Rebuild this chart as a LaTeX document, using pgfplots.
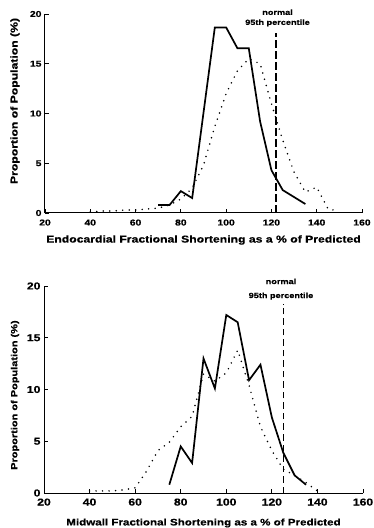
\documentclass[border=0pt]{standalone}
\usepackage{fontspec}
\usepackage{pgfplots}
\pgfplotsset{compat=1.18}
\newfontfamily\lab[FakeStretch=1.22, BoldFeatures={FakeBold=0.6}]{Liberation Sans}
\pgfplotsset{
  myax/.style={
    scale only axis, clip=false,
    xmin=20, xmax=160, ymin=0, ymax=20,
    axis x line=bottom, axis y line=left,
    axis line style={-, line width=1pt},
    tick align=inside, major tick length=4pt,
    tick style={line width=0.9pt, black},
    xtick={20,40,...,160}, ytick={0,5,...,20},
    /pgf/number format/assume math mode=true,
  },
  solidl/.style={black, line width=1.7pt, line join=miter},
  dotl/.style={black, line width=1.7pt, line cap=round, dash pattern=on 0pt off 6.5pt},
}
\begin{document}
\begin{tikzpicture}
\path[use as bounding box] (0,0) rectangle (374pt,528pt);
% ---------- top ----------
\begin{axis}[myax,
  at={(45pt,315pt)}, anchor=south west,
  width=317pt, height=199pt,
  ticklabel style={font=\lab\bfseries\fontsize{8.5}{10}\selectfont},
  xticklabel style={yshift=-3pt},
  xlabel={Endocardial Fractional Shortening as a \% of Predicted},
  ylabel={Proportion of Population (\%)},
  label style={font=\lab\bfseries\fontsize{10}{12}\selectfont},
  xlabel style={at={(axis description cs:0.5,0)}, anchor=center, yshift=-27pt},
  ylabel style={at={(axis description cs:-0.0946,0.563)}, anchor=center},
]
\addplot[dotl] coordinates {
(40,0.1) (45,0.2) (50,0.2) (55,0.3) (60,0.3) (65,0.4) (70,0.5) (75,0.8)
(80,1.4) (85,2.5) (90,4.8) (95,8.7) (100,12.0) (105,14.3) (110,15.5)
(115,15.0) (120,11.0) (125,7.3) (130,4.1) (135,2.1) (140,2.6) (145,0.4) (150,0.2)};
\addplot[solidl] coordinates {
(70,0.8) (75,0.8) (80,2.2) (85,1.5) (95,18.65) (100,18.65) (105,16.55)
(110,16.55) (115,9.2) (120,4.3) (125,2.3) (135,0.9)};
\addplot[black, line width=1.1pt, dash pattern=on 8pt off 3pt] coordinates {(122,0) (122,18.1)};
\node[align=center, font=\lab\bfseries\fontsize{7.5}{10}\selectfont, inner sep=0pt] at (axis cs:122.7,19.6) {normal\\95th percentile};
\end{axis}
% ---------- bottom ----------
\begin{axis}[myax,
  at={(44pt,35pt)}, anchor=south west,
  width=319pt, height=207pt,
  ticklabel style={font=\lab\bfseries\fontsize{10}{12}\selectfont},
  xticklabel style={yshift=-2pt},
  xlabel={Midwall Fractional Shortening as a \% of Predicted},
  ylabel={Proportion of Population (\%)},
  label style={font=\lab\bfseries\fontsize{9.5}{11}\selectfont},
  xlabel style={at={(axis description cs:0.5,0)}, anchor=center, yshift=-30pt},
  ylabel style={at={(axis description cs:-0.091,0.473)}, anchor=center, font=\lab\bfseries\fontsize{9}{11}\selectfont},
]
\addplot[dotl] coordinates {
(40,0.2) (45,0.2) (50,0.2) (55,0.3) (60,0.5) (65,2.1) (70,4.1) (75,4.9)
(80,6.4) (85,7.4) (90,11.5) (95,10.8) (100,11.6) (105,13.8) (110,10.4)
(115,6.4) (120,4.1) (125,2.3) (130,1.7) (135,1.0) (140,0.2)};
\addplot[solidl] coordinates {
(75,0.8) (80,4.5) (85,2.9) (90,13.0) (95,10.1) (100,17.2) (105,16.5)
(110,10.9) (115,12.4) (120,7.3) (125,3.9) (130,1.7) (135,0.8)};
\addplot[black, line width=1.1pt, dash pattern=on 6.5pt off 4pt] coordinates {(125,0) (125,18.3)};
\node[align=center, font=\lab\bfseries\fontsize{7.5}{14}\selectfont, inner sep=0pt] at (axis cs:124,19.7) {normal\\95th percentile};
\end{axis}
\end{tikzpicture}
\end{document}
